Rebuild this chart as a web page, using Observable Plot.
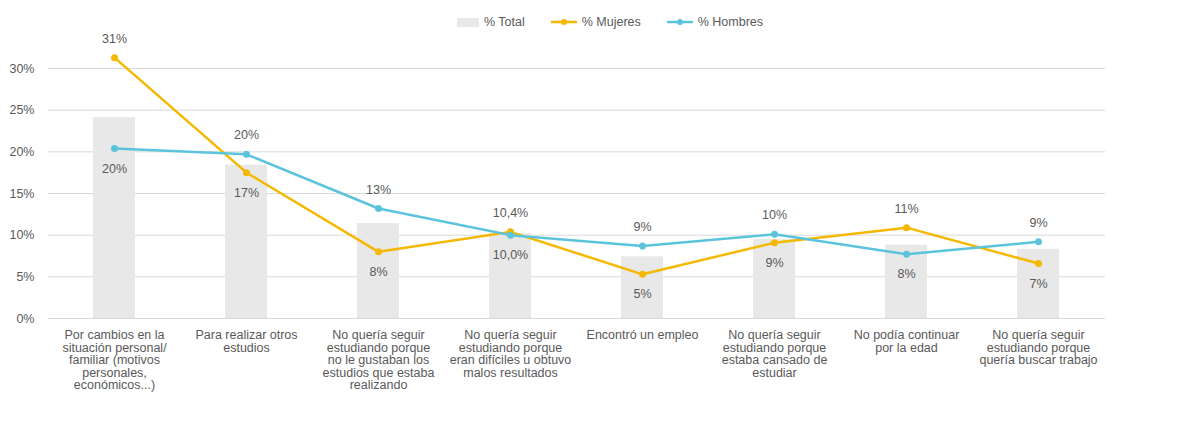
<!DOCTYPE html>
<html><head><meta charset="utf-8">
<script src="https://cdn.jsdelivr.net/npm/d3@7"></script>
<script src="https://cdn.jsdelivr.net/npm/@observablehq/plot@0.6"></script>
<style>
body{margin:0;background:#fff;font-family:"Liberation Sans",Arial,sans-serif;}
#legend{height:29px;display:flex;justify-content:center;align-items:flex-end;gap:26px;font-size:12.5px;color:#595959;padding-left:40px}
.it{display:flex;align-items:center;gap:5px}
</style></head><body>
<div id="legend">
<span class="it"><span style="display:inline-block;width:22px;height:9px;background:#e8e8e8"></span>% Total</span>
<span class="it"><svg width="26" height="8"><line x1="0" y1="4" x2="26" y2="4" stroke="#f5b800" stroke-width="2.5"/><circle cx="13" cy="4" r="3" fill="#f5b800"/></svg>% Mujeres</span>
<span class="it"><svg width="26" height="8"><line x1="0" y1="4" x2="26" y2="4" stroke="#5bc4dc" stroke-width="2.5"/><circle cx="13" cy="4" r="3" fill="#5bc4dc"/></svg>% Hombres</span>
</div>
<div id="chart"></div>
<script>
const categories = [
 "Por cambios en la\nsituación personal/\nfamiliar (motivos\npersonales,\neconómicos...)",
 "Para realizar otros\nestudios",
 "No quería seguir\nestudiando porque\nno le gustaban los\nestudios que estaba\nrealizando",
 "No quería seguir\nestudiando porque\neran difíciles u obtuvo\nmalos resultados",
 "Encontró un empleo",
 "No quería seguir\nestudiando porque\nestaba cansado de\nestudiar",
 "No podía continuar\npor la edad",
 "No quería seguir\nestudiando porque\nquería buscar trabajo"
];
const total   = [24.1, 18.4, 11.4, 10.2, 7.4, 9.5, 8.8, 8.3];
const mujeres = [31.3, 17.5, 8.0, 10.4, 5.3, 9.1, 10.9, 6.6];
const hombres = [20.4, 19.7, 13.2, 10.0, 8.7, 10.1, 7.7, 9.2];
const mujeresLabels = ["31%","17%","8%","10,4%","5%","9%","11%","7%"];
const hombresLabels = ["20%","20%","13%","10,0%","9%","10%","8%","9%"];
const yTicks = [0,5,10,15,20,25,30];

const M = categories.map((c,i)=>({c, v:mujeres[i], l:mujeresLabels[i], up: mujeres[i]>=hombres[i]}));
const H = categories.map((c,i)=>({c, v:hombres[i], l:hombresLabels[i], up: hombres[i]>mujeres[i]}));
const L = [...M, ...H];
const T = categories.map((c,i)=>({c, v:total[i]}));
const txt = "#595959";
const chart = Plot.plot({
  width:1180, height:400,
  marginTop:39, marginBottom:111, marginLeft:48, marginRight:75,
  style:{fontFamily:"Liberation Sans, Arial, sans-serif", fontSize:"12px", color:txt},
  x:{domain:categories, paddingInner:0.68, paddingOuter:0.34, label:null},
  y:{domain:[0,30], ticks:yTicks, tickFormat:d=>d+"%", label:null},
  marks:[
    Plot.gridY(yTicks,{stroke:"#d9d9d9", strokeOpacity:1}),
    Plot.barY(T,{x:"c", y:"v", fill:"#e8e8e8"}),
    Plot.line(M,{x:"c", y:"v", stroke:"#f5b800", strokeWidth:2.5}),
    Plot.dot(M,{x:"c", y:"v", fill:"#f5b800", r:3.5}),
    Plot.line(H,{x:"c", y:"v", stroke:"#5bc4dc", strokeWidth:2.5}),
    Plot.dot(H,{x:"c", y:"v", fill:"#5bc4dc", r:3.5}),
    Plot.text(L.filter(d=>d.up),{x:"c", y:"v", text:"l", fill:txt, fontSize:12.5, dy:-19}),
    Plot.text(L.filter(d=>!d.up),{x:"c", y:"v", text:"l", fill:txt, fontSize:12.5, dy:20}),
    Plot.axisX({tickSize:0, tickPadding:12, fill:txt, fontSize:12.5}),
    Plot.axisY(yTicks,{tickSize:0, tickPadding:14, tickFormat:d=>d+"%", fill:txt, fontSize:12.5}),
    Plot.ruleY([0],{stroke:"#d9d9d9"})
  ]
});
document.getElementById("chart").append(chart);
</script></body></html>
